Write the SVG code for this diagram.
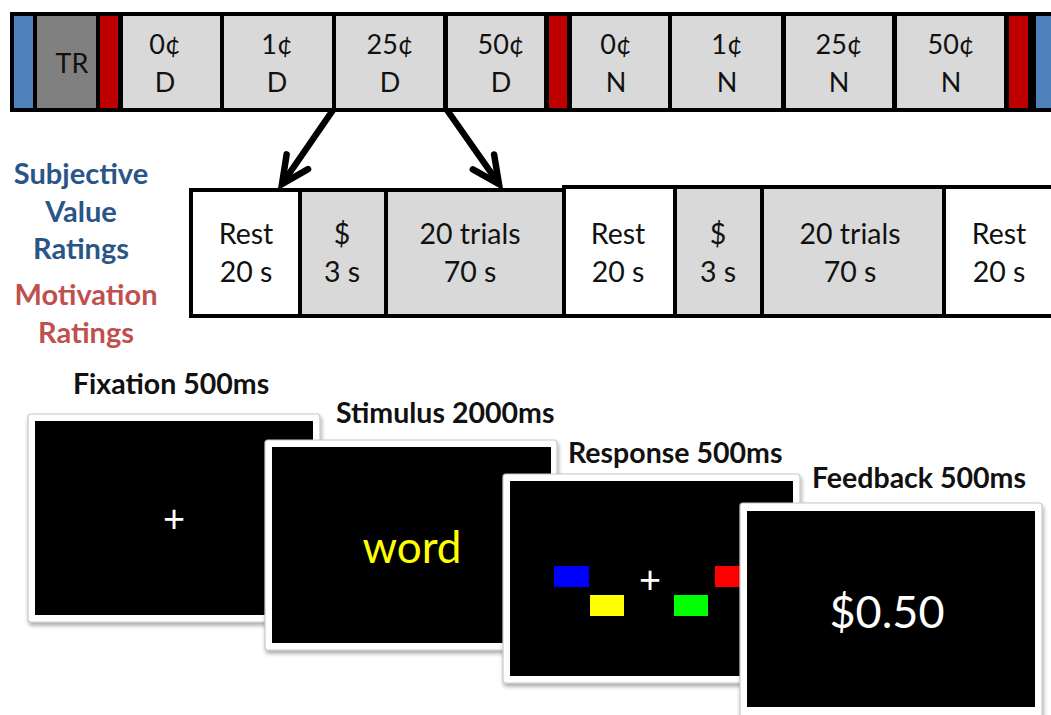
<svg xmlns="http://www.w3.org/2000/svg" width="1051" height="715" viewBox="0 0 1051 715">
<defs>
<style>
.t{font-family:Lato,"Open Sans","Liberation Sans",sans-serif;text-anchor:middle;fill:#111}
.c{font-size:27px}
.b{font-size:28.5px}
.lab{font-family:Lato,"Open Sans","Liberation Sans",sans-serif;font-weight:bold;font-size:28.5px;fill:#111}
.side{font-family:Lato,"Open Sans","Liberation Sans",sans-serif;font-weight:bold;font-size:29px;text-anchor:middle}
.g{fill:#D9D9D9}
.w{fill:#FFFFFF}
.red{fill:#C00000}
.blue{fill:#4F81BD}
.frame{fill:#FFFFFF;stroke:#C8C8C8;stroke-width:1.2;filter:url(#sh)}
.scr{fill:#000}
.conn{stroke:#000;stroke-width:6.5;fill:none;stroke-linecap:butt}
</style>
<filter id="sh" x="-5%" y="-5%" width="115%" height="115%">
<feGaussianBlur in="SourceAlpha" stdDeviation="2"/>
<feOffset dx="1" dy="3" result="o"/>
<feComponentTransfer><feFuncA type="linear" slope="0.35"/></feComponentTransfer>
<feMerge><feMergeNode/><feMergeNode in="SourceGraphic"/></feMerge>
</filter>
<marker id="ah" markerUnits="userSpaceOnUse" markerWidth="50" markerHeight="50" refX="32" refY="25" orient="auto" viewBox="0 0 50 50">
<path d="M5,12 L32,25 L5,38" fill="none" stroke="#000" stroke-width="6.5" stroke-linejoin="miter" stroke-linecap="round"/>
</marker>
</defs>

<g id="run-bar">
<rect x="10" y="12" width="1050" height="100" fill="#000"/>
<rect class="blue" x="14" y="16" width="19" height="92"/>
<rect x="37" y="16" width="59" height="92" fill="#808080"/>
<rect class="red" x="100" y="16" width="18" height="92"/>
<rect class="g" x="123" y="16" width="97" height="92"/>
<rect class="g" x="224" y="16" width="108" height="92"/>
<rect class="g" x="336" y="16" width="107" height="92"/>
<rect class="g" x="448" y="16" width="96" height="92"/>
<rect class="red" x="549" y="16" width="18" height="92"/>
<rect class="g" x="572" y="16" width="96" height="92"/>
<rect class="g" x="672" y="16" width="109" height="92"/>
<rect class="g" x="786" y="16" width="106" height="92"/>
<rect class="g" x="897" y="16" width="107" height="92"/>
<rect class="red" x="1009" y="16" width="19" height="92"/>
<rect class="blue" x="1036" y="16" width="20" height="92"/>
<text class="t c" x="72" y="73">TR</text>
<text class="t c" x="165" y="54">0¢</text><text class="t c" x="165" y="92">D</text>
<text class="t c" x="277" y="54">1¢</text><text class="t c" x="277" y="92">D</text>
<text class="t c" x="390" y="54">25¢</text><text class="t c" x="390" y="92">D</text>
<text class="t c" x="501" y="54">50¢</text><text class="t c" x="501" y="92">D</text>
<text class="t c" x="616" y="54">0¢</text><text class="t c" x="616" y="92">N</text>
<text class="t c" x="727" y="54">1¢</text><text class="t c" x="727" y="92">N</text>
<text class="t c" x="839" y="54">25¢</text><text class="t c" x="839" y="92">N</text>
<text class="t c" x="951" y="54">50¢</text><text class="t c" x="951" y="92">N</text>
</g>

<g id="connectors">
<line class="conn" x1="333" y1="110" x2="282" y2="184" marker-end="url(#ah)"/>
<line class="conn" x1="447" y1="110" x2="499" y2="184" marker-end="url(#ah)"/>
</g>

<g id="ratings-labels">
<text class="side" x="81" y="184" fill="#2A5587">Subjective</text>
<text class="side" x="81" y="222" fill="#2A5587">Value</text>
<text class="side" x="81" y="259" fill="#2A5587">Ratings</text>
<text class="side" x="86" y="305" fill="#C0504D">Motivation</text>
<text class="side" x="86" y="343" fill="#C0504D">Ratings</text>
</g>

<g id="block-bar">
<rect x="189" y="188" width="380" height="130" fill="#000"/>
<rect x="562" y="185" width="498" height="133" fill="#000"/>
<rect class="w" x="193" y="192" width="105" height="122"/>
<rect class="g" x="302" y="192" width="82" height="122"/>
<rect class="g" x="388" y="192" width="174" height="122"/>
<rect class="w" x="566" y="189" width="107" height="125"/>
<rect class="g" x="677" y="189" width="83" height="125"/>
<rect class="g" x="764" y="189" width="178" height="125"/>
<rect class="w" x="946" y="189" width="110" height="125"/>
<text class="t b" x="246" y="244">Rest</text><text class="t b" x="246" y="282">20 s</text>
<text class="t b" x="342" y="244">$</text><text class="t b" x="342" y="282">3 s</text>
<text class="t b" x="470" y="244">20 trials</text><text class="t b" x="470" y="282">70 s</text>
<text class="t b" x="618" y="244">Rest</text><text class="t b" x="618" y="282">20 s</text>
<text class="t b" x="718" y="244">$</text><text class="t b" x="718" y="282">3 s</text>
<text class="t b" x="850" y="244">20 trials</text><text class="t b" x="850" y="282">70 s</text>
<text class="t b" x="999" y="244">Rest</text><text class="t b" x="999" y="282">20 s</text>
</g>

<g id="fixation">
<text class="lab" x="73" y="394">Fixation 500ms</text>
<rect class="frame" x="28" y="414" width="292" height="208" rx="3"/>
<rect class="scr" x="35" y="421" width="278" height="194"/>
<text x="174" y="532" font-family="Lato,'Open Sans',sans-serif" font-size="38" fill="#fff" text-anchor="middle">+</text>
</g>

<g id="stimulus">
<text class="lab" x="336" y="423">Stimulus 2000ms</text>
<rect class="frame" x="265" y="440" width="292" height="210" rx="3"/>
<rect class="scr" x="272" y="447" width="279" height="196"/>
<text x="412" y="563" font-family="Lato,'Open Sans',sans-serif" font-size="44" fill="#FFFF00" text-anchor="middle">word</text>
</g>

<g id="response">
<text class="lab" x="568" y="463">Response 500ms</text>
<rect class="frame" x="503" y="474" width="297" height="209" rx="3"/>
<rect class="scr" x="510" y="481" width="283" height="195"/>
<rect x="554" y="566" width="35" height="21" fill="#0000FF"/>
<rect x="590" y="595" width="34" height="21" fill="#FFFF00"/>
<rect x="674" y="595" width="34" height="21" fill="#00FF00"/>
<rect x="715" y="566" width="35" height="21" fill="#FF0000"/>
<text x="650" y="593" font-family="Lato,'Open Sans',sans-serif" font-size="38" fill="#fff" text-anchor="middle">+</text>
</g>

<g id="feedback">
<text class="lab" x="812" y="488">Feedback 500ms</text>
<rect class="frame" x="740" y="503" width="302" height="220" rx="3"/>
<rect class="scr" x="747" y="511" width="288" height="196"/>
<text x="887" y="628" font-family="Lato,'Open Sans',sans-serif" font-size="45" fill="#fff" text-anchor="middle">$0.50</text>
</g>
</svg>
